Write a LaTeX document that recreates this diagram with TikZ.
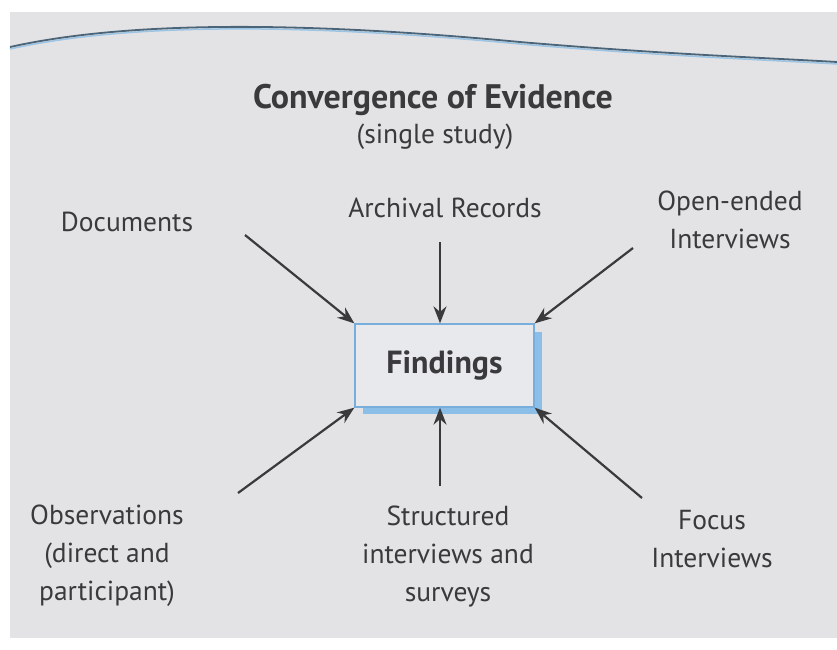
\documentclass[tikz,border=0pt]{standalone}
\usepackage{fontspec}
\setmainfont{PT Sans}
\usetikzlibrary{arrows.meta}
\definecolor{page}{HTML}{E3E3E5}
\definecolor{ink}{HTML}{3A3A3C}
\definecolor{rule}{HTML}{4B6478}
\definecolor{rulelight}{HTML}{9CC4E4}
\definecolor{boxline}{HTML}{78AEDC}
\definecolor{boxshadow}{HTML}{8CBFE8}
\definecolor{boxfill}{HTML}{E8E9ED}
\tikzset{
  label/.style={text=ink, font=\fontsize{27.5}{38}\selectfont, align=center, inner sep=0pt},
  feed/.style={draw=ink, line width=2.2pt, -{Stealth[length=17pt,width=13pt]}},
}
\begin{document}
\begin{tikzpicture}[x=1pt,y=-1pt]
  % paper and scanner margins
  \fill[white] (0,0) rectangle (837,649);
  \fill[page] (10,12) rectangle (837,638);
  \useasboundingbox (0,0) rectangle (837,649);
  % wavy rule along the top of the page
  \draw[rulelight, line width=1.5pt] (10,49) .. controls (140,20) and (330,26) .. (520,44) .. controls (660,56) and (770,60) .. (837,64);
  \draw[rule, line width=1.8pt] (10,47) .. controls (140,18) and (330,24) .. (520,42) .. controls (660,54) and (770,58) .. (837,62);

  % heading
  \node[label, font=\fontsize{34}{38}\bfseries\selectfont] (title) at (433,100) {Convergence of Evidence};
  \node[label] (sub) at (435,137) {(single study)};

  % central box with offset shadow
  \fill[boxshadow] (363,332) rectangle (542,414);
  \node[draw=boxline, line width=1.3pt, fill=boxfill, minimum width=179pt, minimum height=83pt, inner sep=0pt,
        text=ink, font=\fontsize{32}{34}\bfseries\selectfont] (find) at (444.5,365.5) {Findings};

  % sources of evidence
  \node[label] (doc) at (127,222) {Documents};
  \node[label] (arch) at (445,208) {Archival Records};
  \node[label] (open) at (730,220) {Open-ended\\Interviews};
  \node[label] (obs) at (107,556) {Observations\\(direct and\\participant)};
  \node[label] (struct) at (448,557) {Structured\\interviews and\\surveys};
  \node[label] (focus) at (712,539) {Focus\\Interviews};

  % arrow tails
  \coordinate (docS) at (245,235);
  \coordinate (archS) at (440,242);
  \coordinate (openS) at (633,248);
  \coordinate (obsS) at (238,493);
  \coordinate (structS) at (440,486);
  \coordinate (focusS) at (642,498);

  % arrows into the findings box
  \draw[feed] (docS) -- (find.north west);
  \draw[feed] (archS) -- (find.north -| archS);
  \draw[feed] (openS) -- (find.north east);
  \draw[feed] (obsS) -- (find.south west);
  \draw[feed] (structS) -- (find.south -| structS);
  \draw[feed] (focusS) -- (find.south east);
\end{tikzpicture}
\end{document}
